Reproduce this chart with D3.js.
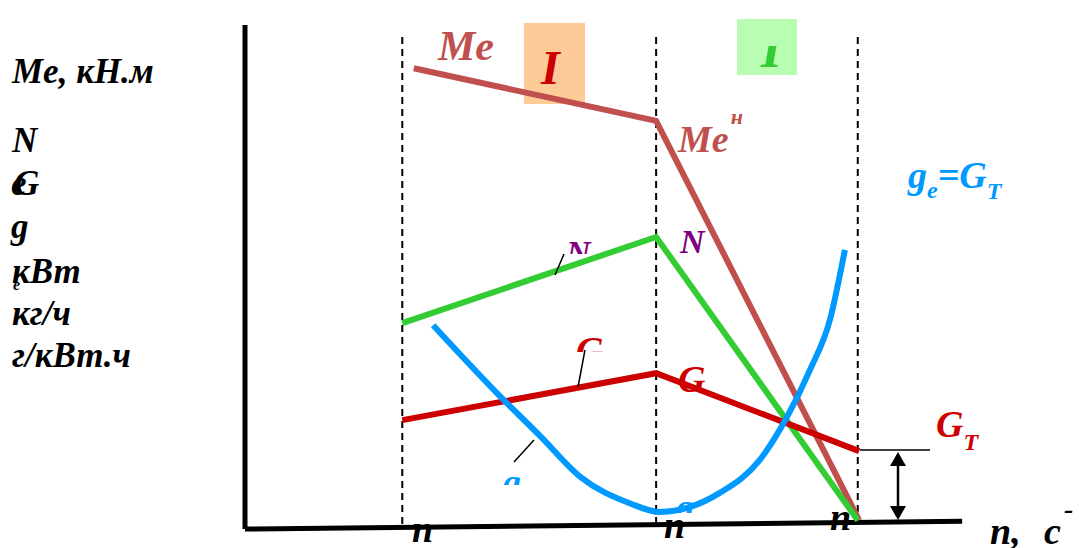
<!DOCTYPE html>
<html lang="ru">
<head>
<meta charset="UTF-8">
<title>Характеристика двигателя</title>
<script src="https://d3js.org/d3.v7.min.js"></script>
<style>
  body { margin: 0; background: #fff; }
  svg text { font-family: "Liberation Serif", "DejaVu Serif", serif; font-weight: bold; font-style: italic; }
</style>
</head>
<body>
<div id="chart"></div>
<script>
// условные единицы: n по горизонтали, величина по вертикали (0..100)
const nMarks = [22, 57.5, 85.7];               // n_min, n_M, n_N
const meCurve = [[23.6, 89.1], [57.5, 78.9], [85.9, 1.5]];
const nCurve  = [[22, 39.7], [57.5, 56.4], [85.7, 1.5]];
const gtCurve = [[22, 20.9], [57.5, 30.0], [85.9, 14.9]];
const geCurve = [[26.3, 39.3], [35.2, 26.2], [41.3, 17.8], [46.9, 9.9], [53.8, 4.8],
                 [58.0, 3.1], [66.4, 6.8], [72.0, 13.2], [75.8, 21.5], [79.0, 30.6],
                 [81.8, 40.3], [83.9, 53.9]];
const yLabels = ["Me, кН.м", "N", "кВт", "кг/ч", "г/кВт.ч"];

const width = 1079, height = 548;
const svg = d3.select("#chart").append("svg")
    .attr("width", width).attr("height", height);

const x = d3.scaleLinear().domain([0, 100]).range([245, 960]);
const y = d3.scaleLinear().domain([0, 100]).range([528, 12]);

const defs = svg.append("defs");
function clip(id, x0, y0, w, h) {
  defs.append("clipPath").attr("id", id)
    .append("rect").attr("x", x0).attr("y", y0).attr("width", w).attr("height", h);
}
clip("cN", 560, 239, 60, 15);
clip("cG", 570, 334, 50, 18);
clip("cg1", 495, 474, 40, 11);
clip("cg2", 670, 497, 40, 16);
clip("cII", 737, 46, 60, 29);
clip("cMe", 430, 76, 60, 8);

const line = d3.line().x(d => x(d[0])).y(d => y(d[1]));

// зоны
svg.append("rect").attr("x", 524).attr("y", 23).attr("width", 61).attr("height", 81).attr("fill", "#fdcb97");
svg.append("rect").attr("x", 737).attr("y", 19).attr("width", 60).attr("height", 56).attr("fill", "#b9fdb3");

// пунктирные вертикали
svg.append("g").selectAll("line").data(nMarks).join("line")
    .attr("x1", d => x(d)).attr("x2", d => x(d))
    .attr("y1", 37).attr("y2", y(0))
    .attr("stroke", "#000").attr("stroke-width", 2).attr("stroke-dasharray", "7,5");

// оси
svg.append("path").attr("d", line([[0, 97.5], [0, -0.2]]))
    .attr("stroke", "#000").attr("stroke-width", 5).attr("fill", "none");
svg.append("path").attr("d", line([[0, -0.2], [100.3, 1.3]]))
    .attr("stroke", "#000").attr("stroke-width", 5).attr("fill", "none");

// кривые
const curves = [
  { d: meCurve, c: "#c0504d" },
  { d: nCurve,  c: "#33cc33" },
  { d: gtCurve, c: "#cc0000" }
];
svg.append("g").selectAll("path").data(curves).join("path")
    .attr("d", d => line(d.d)).attr("fill", "none")
    .attr("stroke", d => d.c).attr("stroke-width", 6);
svg.append("path")
    .attr("d", d3.line().x(d => x(d[0])).y(d => y(d[1])).curve(d3.curveMonotoneX)(geCurve))
    .attr("fill", "none").attr("stroke", "#0099ff").attr("stroke-width", 6);

// выноски
[[555, 275, 564, 254], [578, 387, 585, 350], [514, 462, 534, 440]].forEach(p => {
  svg.append("line").attr("x1", p[0]).attr("y1", p[1]).attr("x2", p[2]).attr("y2", p[3])
    .attr("stroke", "#000").attr("stroke-width", 1.5);
});

// G_T размер
svg.append("line").attr("x1", 860).attr("x2", 930).attr("y1", 450).attr("y2", 450)
    .attr("stroke", "#000").attr("stroke-width", 1.5);
svg.append("line").attr("x1", 898).attr("x2", 898).attr("y1", 462).attr("y2", 510)
    .attr("stroke", "#000").attr("stroke-width", 2.5);
svg.append("path").attr("d", "M898,452 L890,466 L906,466 Z").attr("fill", "#000");
svg.append("path").attr("d", "M898,520 L890,506 L906,506 Z").attr("fill", "#000");

function txt(s, px, py, size, color, clipId) {
  const t = svg.append("text").attr("x", px).attr("y", py)
    .attr("font-size", size).attr("fill", color || "#000").text(s);
  if (clipId) t.attr("clip-path", `url(#${clipId})`);
  return t;
}
function sub(s, px, py, size, subS, dx, dy, subSize, color) {
  const t = svg.append("text").attr("x", px).attr("y", py).attr("font-size", size).attr("fill", color);
  t.append("tspan").text(s);
  t.append("tspan").attr("dx", dx).attr("dy", dy).attr("font-size", subSize).text(subS);
  return t;
}

// подписи оси Y
const ys = 35;
txt(yLabels[0], 12, 83, ys);
txt(yLabels[1], 12, 152, ys);
txt("e", 11, 195, ys);
txt("G", 14, 195, ys);
txt("g", 11, 238, ys);
txt("e", 13, 290, 16);
txt(yLabels[2], 12, 283, ys);
txt(yLabels[3], 12, 325, ys);
txt(yLabels[4], 12, 367, ys);

// подписи кривых
txt("Me", 438, 60, 42, "#c0504d");
txt("н", 442, 96, 22, "#c0504d", "cMe");
txt("I", 541, 84, 48, "#cc0000");
txt("I", 761, 67, 54, "#33cc33", "cII");
sub("Me", 678, 152, 38, "н", 2, -28, 22, "#c0504d");
txt("N", 566, 264, 34, "#800080", "cN");
txt("N", 680, 253, 34, "#800080");
txt("G", 576, 363, 38, "#cc0000", "cG");
txt("G", 678, 392, 38, "#cc0000");
sub("G", 936, 437, 38, "T", 0, 13, 24, "#cc0000");
txt("g", 503, 494, 36, "#0099ff", "cg1");
txt("g", 676, 519, 36, "#0099ff", "cg2");
const ge = svg.append("text").attr("x", 908).attr("y", 188).attr("font-size", 38).attr("fill", "#0099ff");
ge.append("tspan").text("g");
ge.append("tspan").attr("dy", 10).attr("font-size", 24).text("e");
ge.append("tspan").attr("dy", -10).text("=G");
ge.append("tspan").attr("dy", 11).attr("font-size", 24).text("T");

// подписи оси X
txt("n", 412, 542, 38);
txt("n", 664, 538, 38);
txt("n", 830, 530, 38);
txt("n,", 990, 544, 38);
txt("c", 1044, 544, 38);
txt("-", 1064, 518, 28);
</script>
</body>
</html>
